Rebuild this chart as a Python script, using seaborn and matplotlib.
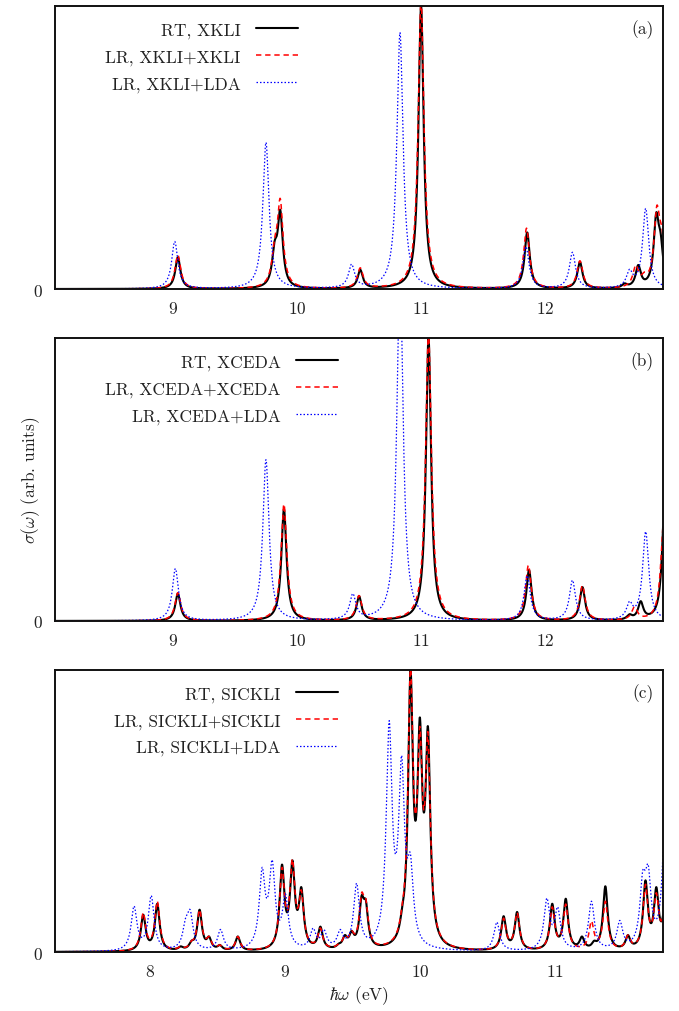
import numpy as np
import matplotlib
matplotlib.use("Agg")
import matplotlib.pyplot as plt
import seaborn as sns

# peak positions (eV) and heights, per panel and curve
a_rt_pos = [9.04, 9.82, 9.865, 10.51, 11.0, 11.855, 12.28, 12.64, 12.75, 12.895, 12.93]
a_rt_h = [0.112, 0.17, 0.28, 0.068, 1.0, 0.2, 0.096, 0.02, 0.085, 0.27, 0.2]
a_lr_pos = [9.04, 9.82, 9.865, 10.51, 11.0, 11.85, 12.28, 12.73, 12.8, 12.9, 12.94]
a_lr_h = [0.12, 0.18, 0.32, 0.075, 1.02, 0.215, 0.1, 0.085, 0.06, 0.295, 0.22]
a_lda_pos = [9.015, 9.75, 10.44, 10.83, 11.845, 12.22, 12.68, 12.81]
a_lda_h = [0.168, 0.518, 0.088, 0.906, 0.15, 0.13, 0.07, 0.285]

b_rt_pos = [9.04, 9.895, 10.5, 11.06, 11.87, 12.3, 12.68, 12.77, 12.965]
b_rt_h = [0.097, 0.395, 0.088, 1.0, 0.18, 0.12, 0.024, 0.07, 0.45]
b_lr_pos = [9.04, 9.895, 10.5, 11.06, 11.865, 12.3, 12.72, 12.955]
b_lr_h = [0.1, 0.413, 0.09, 1.02, 0.197, 0.125, 0.05, 0.35]
b_lda_pos = [9.02, 9.75, 10.45, 10.83, 11.855, 12.22, 12.68, 12.81]
b_lda_h = [0.185, 0.57, 0.097, 1.25, 0.16, 0.144, 0.07, 0.316]

c_rt_pos = [7.953, 8.057, 8.23, 8.31, 8.37, 8.44, 8.52, 8.653, 8.98, 9.057, 9.123,
            9.264, 9.4, 9.445, 9.495, 9.569, 9.60, 9.87, 9.931, 10.0, 10.06,
            10.62, 10.72, 10.98, 11.08, 11.2, 11.29, 11.373, 11.54, 11.67, 11.75, 11.82]
c_rt_h = [0.132, 0.171, 0.02, 0.04, 0.15, 0.055, 0.025, 0.055, 0.31, 0.325, 0.23,
          0.09, 0.03, 0.06, 0.075, 0.2, 0.185, 0.16, 1.0, 0.832, 0.80,
          0.127, 0.142, 0.171, 0.189, 0.055, 0.04, 0.233, 0.06, 0.254, 0.23, 0.2]
c_lr_pos = [7.953, 8.057, 8.23, 8.31, 8.37, 8.44, 8.52, 8.653, 8.98, 9.057, 9.123,
            9.264, 9.4, 9.445, 9.495, 9.569, 9.60, 9.87, 9.931, 10.0, 10.06,
            10.62, 10.72, 10.98, 11.08, 11.27, 11.373, 11.54, 11.67, 11.75, 11.82]
c_lr_h = [0.14, 0.18, 0.02, 0.04, 0.15, 0.055, 0.025, 0.055, 0.3, 0.33, 0.22,
          0.085, 0.03, 0.06, 0.075, 0.21, 0.19, 0.17, 1.02, 0.8, 0.78,
          0.12, 0.14, 0.16, 0.17, 0.11, 0.18, 0.06, 0.24, 0.21, 0.2]
c_lda_pos = [7.885, 8.012, 8.266, 8.30, 8.525, 8.833, 8.907, 9.005, 9.21, 9.29,
             9.41, 9.532, 9.773, 9.865, 9.93, 10.57, 10.94, 11.02, 11.27, 11.48,
             11.65, 11.69, 11.82]
c_lda_h = [0.163, 0.2, 0.12, 0.15, 0.08, 0.30, 0.327, 0.206, 0.085, 0.08,
           0.08, 0.244, 0.82, 0.697, 0.35, 0.106, 0.191, 0.16, 0.18, 0.112,
           0.29, 0.31, 0.55]

# broadening (half width, eV) per panel: RT, LR, LR+LDA
widths = {"a": (0.025, 0.028, 0.03), "b": (0.025, 0.028, 0.03), "c": (0.021, 0.022, 0.026)}

xlims = {"a": (8.05, 12.95), "b": (8.05, 12.95), "c": (7.3, 11.8)}
xticks = {"a": [9, 10, 11, 12], "b": [9, 10, 11, 12], "c": [8, 9, 10, 11]}
funcs = {"a": "XKLI", "b": "XCEDA", "c": "SICKLI"}
peaks = {
    "a": [(a_rt_pos, a_rt_h), (a_lr_pos, a_lr_h), (a_lda_pos, a_lda_h)],
    "b": [(b_rt_pos, b_rt_h), (b_lr_pos, b_lr_h), (b_lda_pos, b_lda_h)],
    "c": [(c_rt_pos, c_rt_h), (c_lr_pos, c_lr_h), (c_lda_pos, c_lda_h)],
}


def spectrum(x, pos, height, g):
    # Lorentzian broadened stick spectrum; amplitudes chosen so peak tops hit the read heights
    pos = np.asarray(pos)
    height = np.asarray(height)
    m = 1.0 / (1.0 + ((pos[:, None] - pos[None, :]) / g) ** 2)
    amp = np.clip(np.linalg.solve(m, height), 0, None)
    return (amp[None, :] / (1.0 + ((x[:, None] - pos[None, :]) / g) ** 2)).sum(axis=1)


sns.set_style("white")
plt.rcParams['font.family'] = ['cmr10', 'DejaVu Serif']
plt.rcParams['mathtext.fontset'] = 'cm'
plt.rcParams['axes.unicode_minus'] = False
plt.rcParams['axes.formatter.use_mathtext'] = True
text_col = '#222222'
fs = 12.5

fig = plt.figure(figsize=(6.79, 10.12), dpi=100)
boxes = {"a": [0.081, 0.7134, 0.8955, 0.2797],
         "b": [0.081, 0.3854, 0.8955, 0.2796],
         "c": [0.081, 0.0583, 0.8955, 0.2787]}
leg_x = {"a": 0.411, "b": 0.477, "c": 0.477}

styles = [dict(color='black', lw=1.5, linestyle='-'),
          dict(color='red', lw=1.1, linestyle=(0, (3.5, 2.5))),
          dict(color='blue', lw=0.9, linestyle=(0, (1.2, 1.6)))]

for key in ["a", "b", "c"]:
    ax = fig.add_axes(boxes[key])
    x = np.linspace(xlims[key][0], xlims[key][1], 4000)
    labels = [f"RT, {funcs[key]}", f"LR, {funcs[key]}+{funcs[key]}", f"LR, {funcs[key]}+LDA"]
    for (pos, h), g, st, lab in zip(peaks[key], widths[key], styles, labels):
        y = spectrum(x, pos, h, g)
        sns.lineplot(x=x, y=y, ax=ax, estimator=None, sort=False, label=lab, **st)

    ax.set_xlim(*xlims[key])
    ax.set_ylim(0, 1.0)
    ax.set_xticks(xticks[key])
    ax.set_yticks([0])
    ax.tick_params(axis='x', direction='in', length=5, width=1.0, top=False, pad=8,
                   labelsize=fs, colors=text_col)
    ax.tick_params(axis='y', direction='in', length=0, pad=9, labelsize=fs, colors=text_col)
    for sp in ax.spines.values():
        sp.set_linewidth(1.4)
        sp.set_color('#111111')
    ax.set_xlabel('')
    ax.set_ylabel('')

    leg = ax.legend(loc='upper right', bbox_to_anchor=(leg_x[key], 0.968), frameon=False,
                    markerfirst=False, fontsize=fs, handlelength=2.4, handletextpad=0.9,
                    labelspacing=0.64, borderpad=0.4, borderaxespad=0)
    for t in leg.get_texts():
        t.set_color(text_col)

    ax.text(0.985, 0.92, f"({key})", transform=ax.transAxes, ha='right', va='center',
            fontsize=fs, color=text_col)

    if key == "b":
        ax.set_ylabel(r'$\sigma(\omega)$ (arb. units)', fontsize=fs, color=text_col)
        ax.yaxis.set_label_coords(-0.022, 0.5)
    if key == "c":
        ax.set_xlabel(r'$\hbar\omega$ (eV)', fontsize=fs, color=text_col, labelpad=3)

plt.savefig('out.png', dpi=100)
